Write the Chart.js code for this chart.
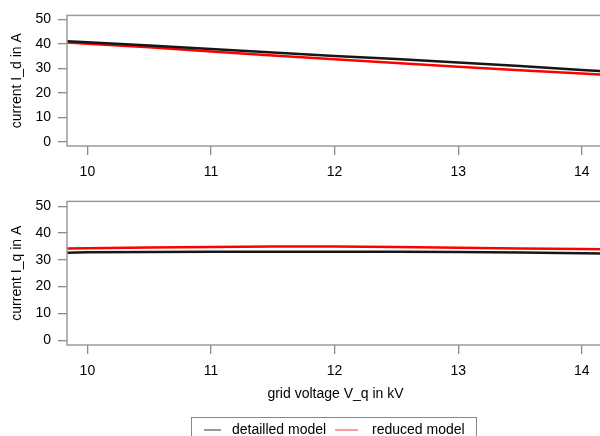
<!DOCTYPE html>
<html>
<head>
<meta charset="utf-8">
<script src="https://cdn.jsdelivr.net/npm/chart.js@4"></script>
<style>
  html, body { margin: 0; padding: 0; background: #fff; overflow: hidden; width: 600px; height: 436px; }
  #top { position: absolute; left: 0; top: 0; }
  #bottom { position: absolute; left: 0; top: 186px; }
  #legend {
    position: absolute; left: 191px; top: 417px; width: 286px; height: 24px;
    border: 1px solid #888; box-sizing: border-box;
    font: 14px "Liberation Sans", Arial, sans-serif; color: #000;
    white-space: nowrap;
  }
  #legend span { position: absolute; top: 3px; }
  #legend i { position: absolute; top: 11px; height: 2px; }
</style>
</head>
<body>
<canvas id="top" width="604" height="190"></canvas>
<canvas id="bottom" width="604" height="230"></canvas>
<div id="legend">
  <i style="left: 12px; width: 17px; background: #999;"></i><span style="left: 40px;">detailled model</span>
  <i style="left: 143px; width: 23px; background: #f99;"></i><span style="left: 180px;">reduced model</span>
</div>
<script>
// grid voltage in kV
const voltage = [9.8, 10, 10.5, 11, 11.5, 12, 12.5, 13, 13.5, 14, 14.2];

// current I_d in A
const idDetailed = [41.2, 40.7, 39.3, 37.9, 36.5, 35.1, 33.8, 32.4, 31.0, 29.4, 28.8];
const idReduced = [40.7, 40.1, 38.6, 36.9, 35.3, 33.7, 32.2, 30.7, 29.3, 27.9, 27.4];

// current I_q in A
const iqDetailed = [32.6, 32.8, 32.9, 33.0, 33.0, 33.0, 33.0, 32.9, 32.7, 32.4, 32.3];
const iqReduced = [34.2, 34.3, 34.6, 34.8, 35.0, 35.0, 34.8, 34.5, 34.2, 34.0, 33.9];

const xTicks = [10, 11, 12, 13, 14];
const yTicks = [0, 10, 20, 30, 40, 50];

Chart.defaults.font.family = "'Liberation Sans', Arial, sans-serif";
Chart.defaults.font.size = 14;
Chart.defaults.color = "#000";

// box around the plot region
const boxPlugin = {
  id: "box",
  afterDraw(chart) {
    const { ctx, chartArea: a } = chart;
    ctx.save();
    ctx.strokeStyle = "#9a9a9a";
    ctx.lineWidth = 1.5;
    ctx.strokeRect(a.left, a.top, a.right - a.left, a.bottom - a.top);
    ctx.restore();
  },
};

function points(ys) {
  return voltage.map((x, i) => ({ x: x, y: ys[i] }));
}

function makeChart(id, detailed, reduced, yTitle, yMin, yMax, xHeight, xTitle) {
  return new Chart(document.getElementById(id), {
    type: "line",
    data: {
      datasets: [
        { label: "detailled model", data: points(detailed), borderColor: "#161616", borderWidth: 2.5 },
        { label: "reduced model", data: points(reduced), borderColor: "#ff0000", borderWidth: 2.5 },
      ],
    },
    options: {
      responsive: false,
      animation: false,
      layout: { padding: { top: 13, left: 0, right: 0, bottom: 0 } },
      elements: { point: { radius: 0 }, line: { tension: 0 } },
      plugins: { legend: { display: false }, tooltip: { enabled: false } },
      scales: {
        x: {
          type: "linear",
          min: 9.835,
          max: 14.18,
          afterBuildTicks: (s) => { s.ticks = xTicks.map((v) => ({ value: v })); },
          afterFit: (s) => { s.height = xHeight; },
          ticks: { padding: 9 },
          grid: { drawOnChartArea: false, tickLength: 9, tickColor: "#8a8a8a", lineWidth: 1.3 },
          border: { display: false },
          title: xTitle
            ? { display: true, text: xTitle, padding: { top: 0, bottom: 13 } }
            : { display: false },
        },
        y: {
          min: yMin,
          max: yMax,
          afterBuildTicks: (s) => { s.ticks = yTicks.map((v) => ({ value: v })); },
          afterFit: (s) => { s.width = 67; },
          ticks: { padding: 7 },
          grid: { drawOnChartArea: false, tickLength: 9, tickColor: "#8a8a8a", lineWidth: 1.3 },
          border: { display: false },
          title: { display: true, text: yTitle, padding: { top: 9, bottom: 0 } },
        },
      },
    },
    plugins: [boxPlugin],
  });
}

makeChart("top", idDetailed, idReduced, "current I_d in A", -1.6, 51.6, 44, null);
makeChart("bottom", iqDetailed, iqReduced, "current I_q in A", -1.8, 51.8, 71, "grid voltage V_q in kV");
</script>
</body>
</html>
